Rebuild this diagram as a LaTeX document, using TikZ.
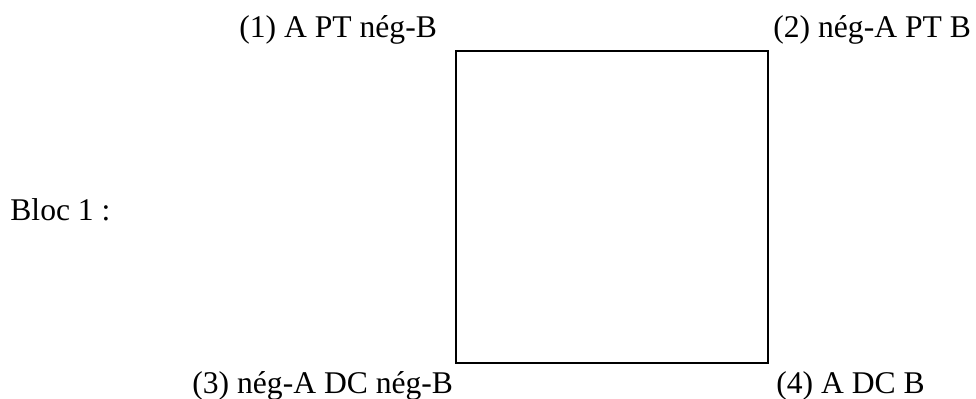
\documentclass[tikz,border=0pt]{standalone}
\usepackage{fontspec}
\setmainfont{Liberation Serif}
\usetikzlibrary{positioning}

\tikzset{
    etiquette/.style={anchor=base west, inner sep=0pt, font=\fontsize{15.8}{18}\selectfont},
    carre/.style={draw, line width=1pt, minimum size=156pt, inner sep=0pt}
}

\begin{document}
\begin{tikzpicture}[x=0.5pt, y=-0.5pt]
    \useasboundingbox (0,0) rectangle (976,398);

    % le carre du bloc
    \node[carre] (bloc) at (612,207) {};

    % les quatre coins
    \node[etiquette] (un) at (239,37) {(1) A PT nég-B};
    \node[etiquette] (deux) at (773,37) {(2) nég-A PT B};
    \node[etiquette] (trois) at (192,393) {(3) nég-A DC nég-B};
    \node[etiquette] (quatre) at (776,393) {(4) A DC B};

    \node[etiquette] (titre) at (10,220) {Bloc 1 :};
\end{tikzpicture}
\end{document}
